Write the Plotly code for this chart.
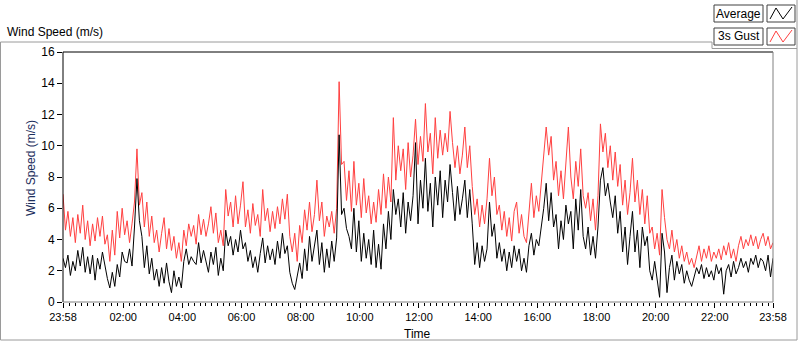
import plotly.graph_objects as go
import pandas as pd

# ---- data (5-minute samples from 23:58 to 23:58) ----
gust = [
    6.9, 4.6, 5.8, 4.2, 5.4, 3.8, 5.6, 4.4, 6.2, 4.0,
    5.2, 3.6, 5.0, 3.9, 5.4, 4.2, 5.5, 3.7, 4.3, 2.6,
    4.6, 3.0, 5.8, 4.1, 6.0, 4.3, 5.2, 3.8, 5.0, 6.4,
    9.8, 6.2, 7.0, 4.8, 6.4, 4.2, 5.5, 3.8, 4.6, 3.2,
    4.4, 5.4, 3.4, 4.7, 3.3, 4.2, 2.8, 3.8, 2.6, 4.6,
    3.6, 5.0, 4.2, 4.9, 3.7, 5.6, 4.3, 5.3,
    4.2, 5.0, 6.1, 4.4, 5.7, 3.8, 4.6, 3.6, 7.2, 5.5,
    6.4, 4.8, 6.8, 5.0, 6.2, 7.7, 4.8, 5.9, 4.4, 6.3,
    4.9, 5.6, 4.2, 7.2, 5.2, 6.0, 4.5, 5.8, 4.7, 6.1,
    5.0, 6.6, 5.3, 6.9, 4.2, 3.2, 4.4, 2.6, 4.9, 3.8,
    5.9, 4.6, 6.4, 4.5, 5.6, 7.8, 5.2, 6.4, 4.2, 5.5,
    4.8, 5.8, 4.4, 6.0, 14.1, 8.8, 9.0, 6.5,
    8.4, 5.8, 9.0, 6.2, 7.6, 5.4, 7.9, 5.7, 6.8, 5.0,
    6.4, 5.1, 7.2, 5.6, 8.2, 6.0, 8.0, 6.4, 11.8, 7.8,
    10.0, 8.4, 9.8, 7.2, 10.2, 8.0, 9.4, 11.7, 8.8, 10.6,
    9.0, 12.7, 9.6, 10.8, 8.2, 11.8, 9.2, 11.0, 9.4, 10.8,
    9.6, 12.2, 10.2, 8.6, 10.0, 8.2, 9.4, 11.2, 8.6, 10.0,
    7.4, 5.6, 6.6, 4.8, 6.2, 5.0, 6.6,
    9.2, 6.8, 8.0, 5.6, 6.2, 4.6, 5.8, 4.2, 5.4, 3.9,
    5.8, 6.4, 4.4, 5.6, 4.2, 3.8, 5.8, 7.6, 5.4, 6.8,
    5.8, 7.8, 9.2, 11.2, 9.4, 10.6, 7.8, 9.0, 6.8, 8.4,
    6.6, 9.0, 11.2, 8.0, 6.6, 9.0, 7.4, 9.8, 6.8, 6.0,
    7.0, 5.2, 6.6, 4.6, 6.8, 11.4, 9.6, 10.8, 8.6, 10.0,
    7.8, 9.6, 7.4, 8.8, 6.2, 7.8, 5.6, 7.0,
    9.2, 6.4, 7.8, 5.6, 7.2, 5.0, 6.8, 4.4, 4.8, 3.4,
    4.4, 3.0, 7.2, 5.4, 4.0, 3.4, 4.6, 3.2, 4.0, 2.8,
    3.6, 2.6, 3.2, 2.4, 2.8, 2.2, 3.0, 3.6, 2.6, 3.4,
    2.8, 3.6, 2.6, 3.2, 2.8, 3.4, 2.7, 3.6, 3.0, 3.8,
    2.8, 3.4, 2.6, 3.6, 4.2, 3.4, 4.0, 3.6, 4.3, 3.6,
    4.2, 3.4, 4.0, 4.4, 3.6, 4.2, 3.4, 3.8,
]

average = [
    2.8, 2.2, 3.0, 1.7, 2.6, 2.0, 3.3, 2.3, 3.5, 1.9,
    2.9, 1.8, 3.0, 1.4, 2.8, 2.1, 3.2, 2.2, 1.5, 0.9,
    1.9, 1.0, 2.4, 1.6, 3.2, 2.6, 2.5, 3.4, 2.3, 4.8,
    7.9, 5.2, 4.2, 2.2, 3.6, 1.8, 2.8, 1.4, 2.1, 1.0,
    2.2, 1.2, 2.5, 1.3, 0.6, 2.0, 1.0, 1.6, 0.9, 2.6,
    3.4, 2.4, 2.9, 2.6, 2.4, 3.8, 2.5, 3.3,
    2.6, 1.9, 3.2, 2.4, 3.5, 1.7, 2.8, 2.0, 4.6, 3.6,
    4.2, 3.0, 4.0, 3.2, 4.6, 3.4, 3.8, 2.6, 3.3, 2.2,
    2.9, 1.9, 3.1, 4.1, 2.5, 3.6, 2.7, 3.4, 2.4, 3.9,
    2.8, 4.4, 3.1, 3.6, 1.9, 1.2, 0.8, 1.6, 2.5, 1.5,
    3.4, 2.0, 4.2, 2.6, 3.7, 4.6, 2.4, 3.8, 1.9, 3.4,
    2.2, 3.9, 2.6, 4.1, 10.7, 5.6, 6.0, 4.7,
    4.2, 3.4, 6.0, 3.2, 5.2, 2.6, 4.4, 2.8, 4.0, 2.4,
    4.6, 2.2, 3.7, 2.1, 5.0, 3.4, 5.8, 4.0, 7.2, 5.6,
    6.6, 4.8, 7.0, 4.4, 6.4, 5.2, 6.8, 10.2, 5.0, 7.8,
    6.0, 9.2, 5.8, 7.6, 4.8, 8.0, 6.2, 8.4, 5.4, 7.8,
    6.4, 8.8, 7.0, 5.2, 7.4, 5.6, 6.6, 7.8, 5.4, 7.2,
    5.0, 2.4, 3.8, 2.2, 3.6, 2.6, 3.4,
    6.4, 4.2, 5.0, 2.8, 3.8, 2.6, 3.4, 2.0, 3.2, 2.2,
    3.6, 2.6, 3.4, 2.0, 2.8, 1.9, 3.6, 4.4, 3.0, 4.0,
    3.6, 4.8, 6.0, 7.6, 5.2, 7.0, 4.8, 5.6, 3.4, 5.2,
    4.0, 6.2, 5.0, 5.8, 3.4, 6.6, 4.6, 7.2, 4.2, 3.4,
    4.8, 3.0, 4.2, 2.8, 4.8, 7.8, 8.6, 6.8, 7.6, 6.4,
    5.4, 6.8, 4.4, 5.8, 3.2, 4.8, 2.4, 4.2,
    5.8, 3.2, 4.6, 2.2, 4.8, 3.6, 4.2, 2.0, 1.4, 2.6,
    1.6, 0.3, 4.4, 3.2, 0.6, 2.2, 3.0, 1.4, 2.6, 1.8,
    2.4, 1.2, 2.0, 1.4, 1.0, 1.6, 2.2, 1.8, 2.4, 1.5,
    2.2, 1.6, 2.0, 1.4, 2.4, 1.8, 2.2, 0.5, 2.0, 2.4,
    1.6, 2.6, 1.8, 2.2, 2.8, 2.2, 2.6, 1.9, 2.8, 2.4,
    3.0, 2.2, 2.8, 2.6, 2.0, 3.0, 1.6, 2.8,
]

tick_times = [
    "2023-05-01 23:58", "2023-05-02 02:00", "2023-05-02 04:00", "2023-05-02 06:00",
    "2023-05-02 08:00", "2023-05-02 10:00", "2023-05-02 12:00", "2023-05-02 14:00",
    "2023-05-02 16:00", "2023-05-02 18:00", "2023-05-02 20:00", "2023-05-02 22:00",
    "2023-05-02 23:58",
]
tick_labels = ["23:58", "02:00", "04:00", "06:00", "08:00", "10:00", "12:00",
               "14:00", "16:00", "18:00", "20:00", "22:00", "23:58"]
y_ticks = [0, 2, 4, 6, 8, 10, 12, 14, 16]

n = min(len(gust), len(average))
times = pd.date_range("2023-05-01 23:58", periods=n, freq="5min")

FONT = "Liberation Sans"
W, H = 800, 342
L, R, T, B = 63, 773, 52, 302


def px(x):
    return (x - L) / (R - L)


def py(y):
    return (B - y) / (B - T)


fig = go.Figure()
fig.add_trace(go.Scatter(x=times, y=gust[:n], mode="lines", name="3s Gust",
                         line=dict(color="#ff4040", width=1)))
fig.add_trace(go.Scatter(x=times, y=average[:n], mode="lines", name="Average",
                         line=dict(color="#000000", width=1)))

shapes = []


def seg(x0, y0, x1, y1, color, width=1):
    shapes.append(dict(type="line", xref="paper", yref="paper",
                       x0=px(x0), y0=py(y0), x1=px(x1), y1=py(y1),
                       line=dict(color=color, width=width), layer="above"))


def box(x0, y0, x1, y1, color="#404040"):
    shapes.append(dict(type="rect", xref="paper", yref="paper",
                       x0=px(x0), y0=py(y0), x1=px(x1), y1=py(y1),
                       line=dict(color=color, width=1), fillcolor="white", layer="above"))


# outer panel frame
GRAY = "#9a9a9a"
seg(0.5, 42, 712, 42, GRAY)
seg(0.5, 42, 0.5, 340, GRAY)
seg(0.5, 340, 797, 340, GRAY)
seg(797, 0, 797, 340, GRAY)
seg(712, 42, 712, 48.5, GRAY)
seg(712, 48.5, 797, 48.5, GRAY)

# plot area border
seg(L, T, R, T, "#000000")
seg(L, T, L, B, "#000000")
seg(R, T, R, B, "#808080")
seg(L, B, R, B, "#808080")

# legend boxes
box(714, 5, 763, 22)
box(767, 5, 795, 22)
box(714, 28, 763, 45)
box(767, 28, 795, 45)


def zigzag(y_top, color):
    pts = [(770, y_top + 14), (776, y_top + 3), (783, y_top + 14), (792, y_top + 2)]
    path = "M " + " L ".join(f"{px(a)},{py(b)}" for a, b in pts)
    shapes.append(dict(type="path", xref="paper", yref="paper", path=path,
                       line=dict(color=color, width=1), layer="above"))


zigzag(5, "#000000")
zigzag(28, "#ff4040")

annotations = [
    dict(text="Wind Speed (m/s)", xref="paper", yref="paper", x=px(5), y=py(32),
         xanchor="left", yanchor="middle", showarrow=False,
         font=dict(family=FONT, size=12, color="#000000")),
    dict(text="Wind Speed (m/s)", xref="paper", yref="paper", x=px(31), y=py(168),
         xanchor="center", yanchor="middle", textangle=-90, showarrow=False,
         font=dict(family=FONT, size=12, color="#1c2e5c")),
    dict(text="Time", xref="paper", yref="paper", x=px(417), y=py(334),
         xanchor="center", yanchor="middle", showarrow=False,
         font=dict(family=FONT, size=12, color="#000000")),
    dict(text="Average", xref="paper", yref="paper", x=px(738.5), y=py(13.5),
         xanchor="center", yanchor="middle", showarrow=False,
         font=dict(family=FONT, size=12, color="#000000")),
    dict(text="3s Gust", xref="paper", yref="paper", x=px(738.5), y=py(36.5),
         xanchor="center", yanchor="middle", showarrow=False,
         font=dict(family=FONT, size=12, color="#000000")),
]

fig.update_layout(
    width=W, height=H,
    margin=dict(l=L, r=W - R, t=T, b=H - B, pad=0),
    paper_bgcolor="white", plot_bgcolor="white",
    showlegend=False,
    shapes=shapes,
    annotations=annotations,
    font=dict(family=FONT, size=11, color="#000000"),
)
fig.update_xaxes(
    type="date",
    range=[tick_times[0], tick_times[-1]],
    tickvals=tick_times, ticktext=tick_labels,
    ticks="outside", ticklen=5, tickwidth=1, tickcolor="#000000",
    tickfont=dict(family=FONT, size=11, color="#000000"),
    showgrid=False, zeroline=False, showline=False,
    minor=dict(ticks="outside", ticklen=3, tickwidth=1, tickcolor="#000000",
               dtick=12 * 60 * 1000, tick0="2023-05-02 00:00", showgrid=False),
)
fig.update_yaxes(
    range=[0, 16], tickvals=y_ticks,
    ticks="outside", ticklen=5, tickwidth=1, tickcolor="#000000",
    tickfont=dict(family=FONT, size=12, color="#000000"),
    showgrid=False, zeroline=False, showline=False,
)

fig.write_html("out.html", config={"displayModeBar": False},
               post_script="document.body.style.margin='0';")
